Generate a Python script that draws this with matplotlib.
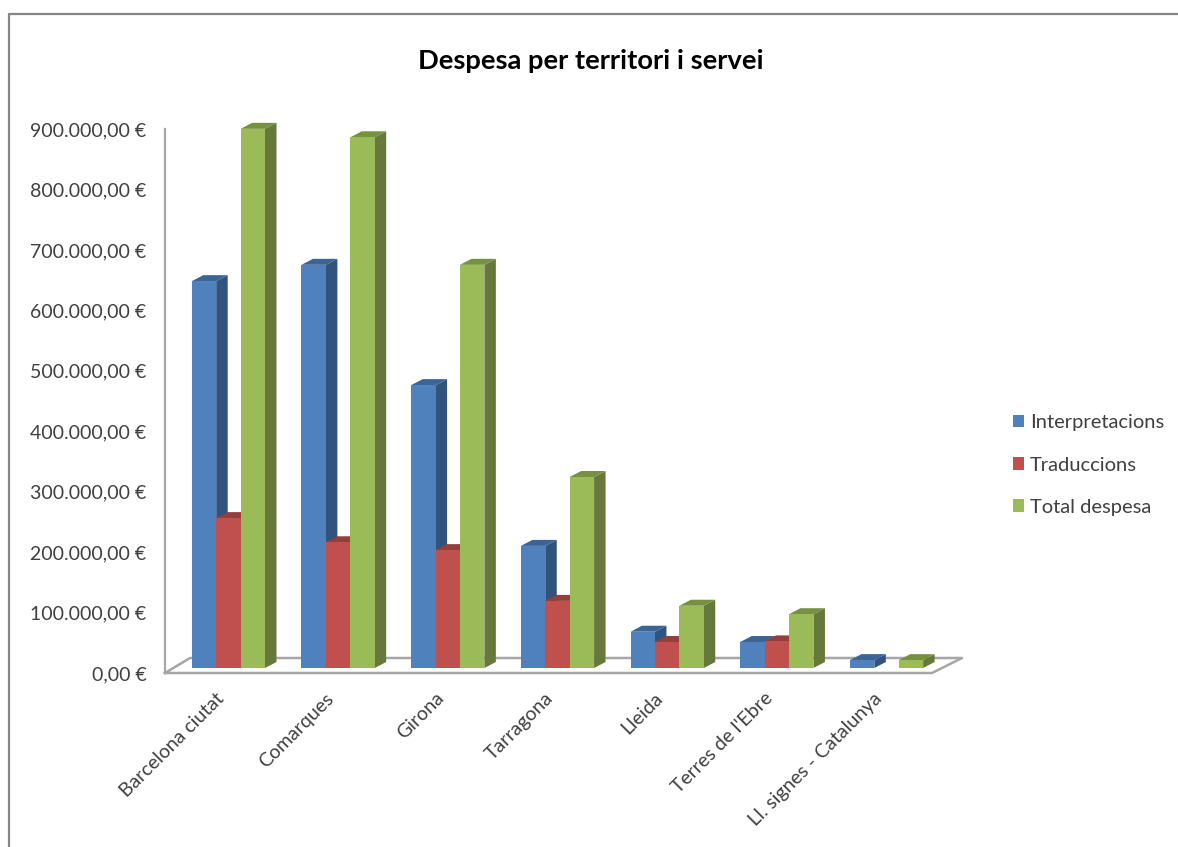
import matplotlib.pyplot as plt
from matplotlib.lines import Line2D
from matplotlib.patches import Patch
from matplotlib.transforms import ScaledTranslation

categories = [
    "Barcelona ciutat",
    "Comarques",
    "Girona",
    "Tarragona",
    "Lleida",
    "Terres de l'Ebre",
    "Ll. signes - Catalunya",
]
interpretacions = [640000, 667000, 468000, 202000, 60000, 43000, 13000]
traduccions = [248000, 208000, 195000, 111000, 43000, 44000, 0]
total_despesa = [892000, 878000, 667000, 316000, 103000, 89000, 13000]
y_ticks = [0, 100000, 200000, 300000, 400000, 500000, 600000, 700000, 800000, 900000]
y_labels = [
    "0,00 €",
    "100.000,00 €",
    "200.000,00 €",
    "300.000,00 €",
    "400.000,00 €",
    "500.000,00 €",
    "600.000,00 €",
    "700.000,00 €",
    "800.000,00 €",
    "900.000,00 €",
]

series = [
    ("Interpretacions", interpretacions, "#4F81BD", "#31547F", "#3C6494"),
    ("Traduccions", traduccions, "#C0504D", "#8A3836", "#963E3C"),
    ("Total despesa", total_despesa, "#9BBB59", "#66793A", "#76913F"),
]

W, H = 1178, 847
plt.rcParams["font.family"] = ["Lato", "DejaVu Sans"]
fig = plt.figure(figsize=(W / 100, H / 100), dpi=100)
ax = fig.add_axes([165 / W, (H - 673) / H, (962 - 165) / W, (673 - 129) / H])

x_min, x_max = -0.578, 6.688
ax.set_xlim(x_min, x_max)
ax.set_ylim(0, 900000)

# conversions for the fake 3d depth
px_x = (x_max - x_min) / (962 - 165)
px_y = 900000 / (673 - 129)
bar_w = 24.4 * px_x
depth_x = 11.5 * px_x
depth_y = 6 * px_y
base = 5 * px_y

# floor
floor_x = [x_min, x_min + 25 * px_x, x_max, x_min + 767 * px_x, x_min]
floor_y = [0, 15 * px_y, 15 * px_y, 0, 0]
ax.plot(floor_x, floor_y, color="#A6A6A6", lw=1.8, clip_on=False, zorder=1)

for j, (name, values, front, side, top) in enumerate(series):
    for i, v in enumerate(values):
        if v == 0:
            continue
        x0 = i + (j - 1.5) * bar_w
        x1 = x0 + bar_w
        y1 = base + v
        ax.fill(
            [x1, x1 + depth_x, x1 + depth_x, x1],
            [base, base + depth_y, y1 + depth_y, y1],
            color=side, lw=0, clip_on=False, zorder=2 + j,
        )
        ax.fill(
            [x0, x0 + depth_x, x1 + depth_x, x1],
            [y1, y1 + depth_y, y1 + depth_y, y1],
            color=top, lw=0, clip_on=False, zorder=2 + j,
        )
        ax.bar(
            x0, v, width=bar_w, bottom=base, align="edge",
            color=front, lw=0, clip_on=False, zorder=2 + j,
        )

for s in ["top", "right", "bottom"]:
    ax.spines[s].set_visible(False)
ax.spines["left"].set_color("#A6A6A6")
ax.spines["left"].set_linewidth(1.6)

ax.set_yticks(y_ticks)
ax.set_yticklabels(y_labels, fontsize=14, color="#404040")
ax.tick_params(axis="y", length=0, pad=13.5)

ax.set_xticks(range(len(categories)))
ax.set_xticklabels(
    categories, fontsize=14, color="#404040",
    rotation=45, ha="right", va="top", rotation_mode="anchor",
)
ax.tick_params(axis="x", length=0, pad=12)
shift = ScaledTranslation(-13 / 100, 0, fig.dpi_scale_trans)
for lab in ax.get_xticklabels():
    lab.set_transform(lab.get_transform() + shift)

fig.text(591 / W, 1 - 61 / H, "Despesa per territori i servei",
         fontsize=19.7, fontweight="bold", color="black", ha="center", va="center")

handles = [Patch(color=s[2], lw=0) for s in series]
fig.legend(
    handles, [s[0] for s in series],
    loc="center left", bbox_to_anchor=(1013 / W, 1 - 465 / H),
    frameon=False, fontsize=14.5, labelcolor="#404040", labelspacing=1.25,
    handlelength=0.56, handleheight=0.56, handletextpad=0.27, borderpad=0, borderaxespad=0,
)

# outer chart frame, open on the right and bottom
frame = Line2D([9 / W, 9 / W, 1], [0, 1 - 14 / H, 1 - 14 / H],
               transform=fig.transFigure, color="#868686", lw=1.6)
fig.add_artist(frame)

fig.savefig("out.png", dpi=100)
